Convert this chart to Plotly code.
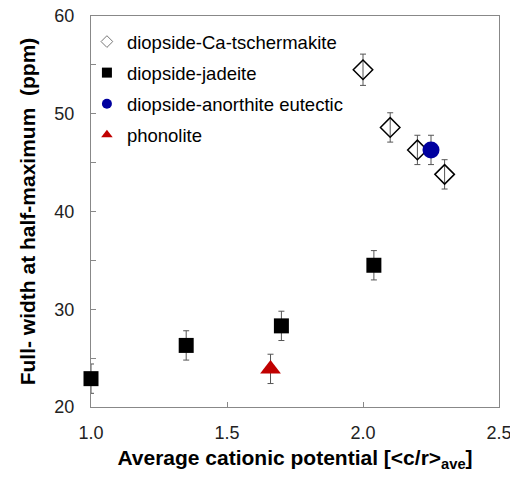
import plotly.graph_objects as go

# Data
ts_x = [2.00, 2.10, 2.20, 2.30]
ts_y = [54.5, 48.6, 46.3, 43.8]
ts_err = [1.6, 1.5, 1.5, 1.5]

jd_x = [1.00, 1.35, 1.70, 2.04]
jd_y = [22.9, 26.3, 28.3, 34.5]
jd_err = [1.5, 1.5, 1.5, 1.5]

an_x = [2.25]
an_y = [46.3]
an_err = [1.5]

ph_x = [1.66]
ph_y = [23.9]
ph_err = [1.5]

names = ["diopside-Ca-tschermakite", "diopside-jadeite",
         "diopside-anorthite eutectic", "phonolite"]

x_ticks = [1.0, 1.5, 2.0, 2.5]
x_ticklabels = ["1.0", "1.5", "2.0", "2.5"]
y_ticks = [20, 25, 30, 35, 40, 45, 50, 55, 60]
y_ticklabels = ["20", "", "30", "", "40", "", "50", "", "60"]

err_color = "#555555"
FONT = "Arial, Liberation Sans, sans-serif"

def eb(vals):
    return dict(type="data", array=vals, visible=True, color=err_color,
                thickness=1, width=3)

fig = go.Figure()

fig.add_trace(go.Scatter(x=ts_x, y=ts_y, mode="markers", error_y=eb(ts_err),
                         marker=dict(symbol="diamond-open", size=15, color="black",
                                     line=dict(width=1.5, color="black")),
                         showlegend=False, cliponaxis=False))
fig.add_trace(go.Scatter(x=jd_x, y=jd_y, mode="markers", error_y=eb(jd_err),
                         marker=dict(symbol="square", size=15, color="black"),
                         showlegend=False, cliponaxis=False))
fig.add_trace(go.Scatter(x=ph_x, y=ph_y, mode="markers", error_y=eb(ph_err),
                         marker=dict(symbol="triangle-up", size=18, color="#C00000"),
                         showlegend=False, cliponaxis=False))
fig.add_trace(go.Scatter(x=an_x, y=an_y, mode="markers", error_y=eb(an_err),
                         marker=dict(symbol="circle", size=17, color="#00009F"),
                         showlegend=False, cliponaxis=False))

leg_markers = [
    dict(symbol="diamond-open", size=9, color="#777777", line=dict(width=1, color="#777777")),
    dict(symbol="square", size=10, color="black"),
    dict(symbol="circle", size=10, color="#00009F"),
    dict(symbol="triangle-up", size=10, color="#C00000"),
]
for i, (nm, mk) in enumerate(zip(names, leg_markers)):
    fig.add_trace(go.Scatter(x=[None], y=[None], mode="markers", name=nm,
                             marker=mk, legendgroup=f"g{i}"))

axis_common = dict(showline=True, linecolor="#888888", linewidth=1, mirror=True,
                   ticks="inside", ticklen=5, tickcolor="#888888",
                   showgrid=False, zeroline=False, automargin=False,
                   ticklabeloverflow="allow", layer="below traces",
                   tickfont=dict(family=FONT, size=18, color="#222222"))

fig.update_layout(
    width=510, height=477,
    margin=dict(l=91, r=11, t=16, b=70),
    paper_bgcolor="white", plot_bgcolor="white",
    font=dict(family=FONT, color="black"),
    xaxis=dict(range=[1.0, 2.5], tickvals=x_ticks, ticktext=x_ticklabels,
               ticklabelstandoff=9,
               title=dict(text="<b>Average cationic potential [&lt;c/r&gt;<sub>ave</sub>]</b>",
                          font=dict(size=21), standoff=8),
               **axis_common),
    yaxis=dict(range=[20, 60], tickvals=y_ticks, ticktext=y_ticklabels,
               ticklabelstandoff=12,
               title=dict(text="<b>Full- width at half-maximum  (ppm)</b>",
                          font=dict(size=21), standoff=13),
               **axis_common),
    legend=dict(x=-0.01, y=0.982, xanchor="left", yanchor="top",
                font=dict(family=FONT, size=18.5, color="black"),
                bgcolor="rgba(0,0,0,0)", tracegroupgap=4, itemwidth=30),
)

fig.write_html("out.html", config={"displayModeBar": False},
               post_script="document.body.style.margin='0';document.body.style.overflow='hidden';document.documentElement.style.overflow='hidden';")
